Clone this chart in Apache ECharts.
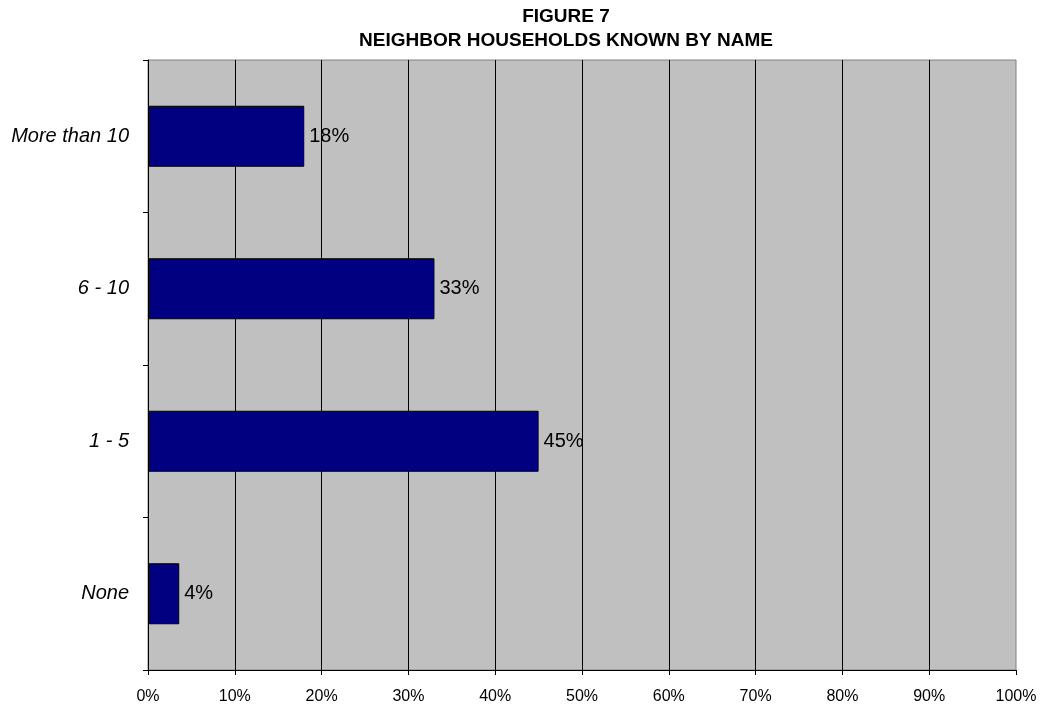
<!DOCTYPE html>
<html>
<head>
<meta charset="utf-8">
<script src="https://cdn.jsdelivr.net/npm/echarts@6/dist/echarts.min.js"></script>
<style>
  html, body { margin: 0; padding: 0; background: #ffffff; }
  #chart { width: 1041px; height: 708px; }
</style>
</head>
<body>
<div id="chart"></div>
<script>
// Number of neighbor households known by name (share of respondents, %)
const categories = ['None', '1 - 5', '6 - 10', 'More than 10'];
const shares = [3.6, 45, 33, 18];
const xTicks = [0, 10, 20, 30, 40, 50, 60, 70, 80, 90, 100];
const titleLines = ['FIGURE 7', 'NEIGHBOR HOUSEHOLDS KNOWN BY NAME'];

const chart = echarts.init(document.getElementById('chart'));
chart.setOption({
  animation: false,
  backgroundColor: '#ffffff',
  title: {
    text: titleLines.join('\n'),
    left: 561,
    top: 0,
    textAlign: 'center',
    textStyle: {
      fontFamily: 'Liberation Sans, Arial, sans-serif',
      fontSize: 19,
      fontWeight: 'bold',
      color: '#000000',
      lineHeight: 24
    }
  },
  grid: {
    left: 148,
    right: 25,
    top: 60,
    bottom: 38,
    show: true,
    backgroundColor: '#c0c0c0',
    borderColor: '#808080',
    borderWidth: 1
  },
  xAxis: {
    type: 'value',
    min: xTicks[0],
    max: xTicks[xTicks.length - 1],
    interval: 10,
    axisLine: { show: true, lineStyle: { color: '#000000', width: 1 } },
    axisTick: { show: true, length: 5, lineStyle: { color: '#000000' } },
    splitLine: {
      show: true,
      showMaxLine: false,
      lineStyle: { color: '#000000', width: 1 }
    },
    axisLabel: {
      formatter: v => v + '%',
      color: '#000000',
      fontFamily: 'Liberation Sans, Arial, sans-serif',
      fontSize: 16,
      margin: 19
    }
  },
  yAxis: {
    type: 'category',
    data: categories,
    axisLine: { show: true, lineStyle: { color: '#000000', width: 1 } },
    axisTick: { show: true, length: 5, lineStyle: { color: '#000000' } },
    splitLine: { show: false },
    axisLabel: {
      color: '#000000',
      fontFamily: 'Liberation Sans, Arial, sans-serif',
      fontSize: 20,
      fontStyle: 'italic',
      margin: 19
    }
  },
  series: [{
    type: 'bar',
    data: shares,
    barCategoryGap: '60%',
    itemStyle: {
      color: '#000080',
      borderColor: '#000000',
      borderWidth: 1
    },
    label: {
      show: true,
      position: 'right',
      distance: 5,
      formatter: p => Math.round(p.value) + '%',
      color: '#000000',
      fontFamily: 'Liberation Sans, Arial, sans-serif',
      fontSize: 20
    }
  }]
});
</script>
</body>
</html>
